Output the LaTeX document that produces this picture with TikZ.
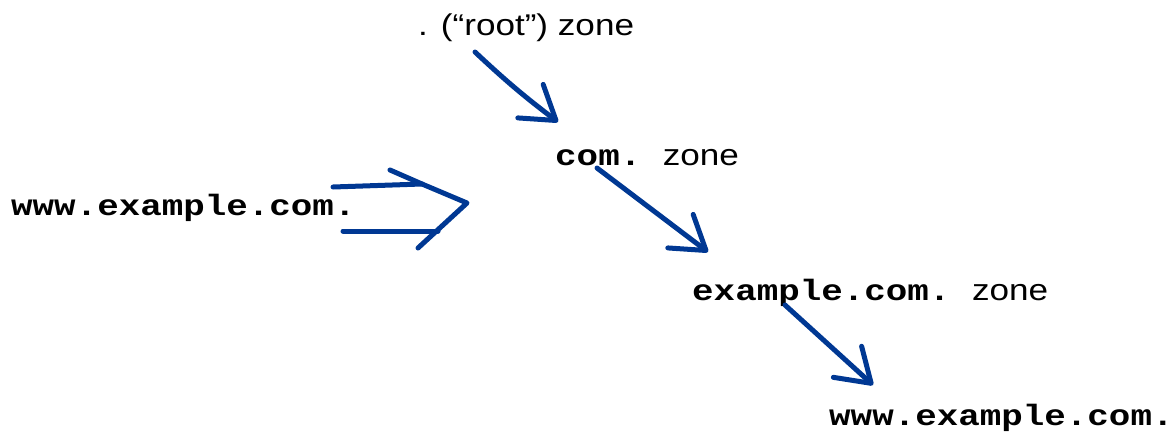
\documentclass[tikz,border=0pt]{standalone}
\usepackage{fontspec}
\setmainfont{Liberation Sans}[FakeStretch=1.17]
\setmonofont{Liberation Mono}[FakeStretch=1.22]
\usetikzlibrary{arrows.meta}
\definecolor{penblue}{RGB}{0,56,147}
\tikzset{
  zn/.style={anchor=base west, inner sep=0pt, font=\fontsize{30}{36}\selectfont},
  dn/.style={zn, font=\fontsize{29.4}{36}\selectfont\ttfamily\bfseries},
  pen/.style={penblue, line width=5pt, line cap=round, line join=round},
  pa/.style={pen, -{Straight Barb[length=32pt,width=42pt,round]}}
}
\begin{document}
\begin{tikzpicture}[x=1pt,y=-1pt]
  \useasboundingbox (0,0) rectangle (1174,439);
  \node[zn] (root) at (418,35) {. (“root”) zone};
  \node[zn] (com) at (555,165) {{\fontsize{29.4}{36}\selectfont\ttfamily\bfseries com. }zone};
  \node[zn] (excom) at (692,300) {{\fontsize{29.4}{36}\selectfont\ttfamily\bfseries example.com. }zone};
  \node[dn] (query) at (11,215) {www.example.com.};
  \node[dn] (www) at (829,425) {www.example.com.};
  \coordinate (hit) at (467,203);
  % hand drawn hops down the tree
  \draw[pa] ([shift={(57,17)}]root.base west) to[bend right=3] ([shift={(3,-43)}]com.base west);
  \draw[pa] ([shift={(42,3)}]com.base west) -- ([shift={(16,-48)}]excom.base west);
  \draw[pa] ([shift={(93,5)}]excom.base west) -- ([shift={(44,-40)}]www.base west);
  % the big double arrow
  \draw[pen] ([shift={(322,-28)}]query.base west) -- ([shift={(-45,-19)}]hit) -- (hit) -- ([shift={(-49,45)}]hit);
  \draw[pen] ([shift={(-77,-33)}]hit) -- ([shift={(-45,-19)}]hit);
  \draw[pen] ([shift={(332,16)}]query.base west) -- ([shift={(-29,28)}]hit);
\end{tikzpicture}
\end{document}
